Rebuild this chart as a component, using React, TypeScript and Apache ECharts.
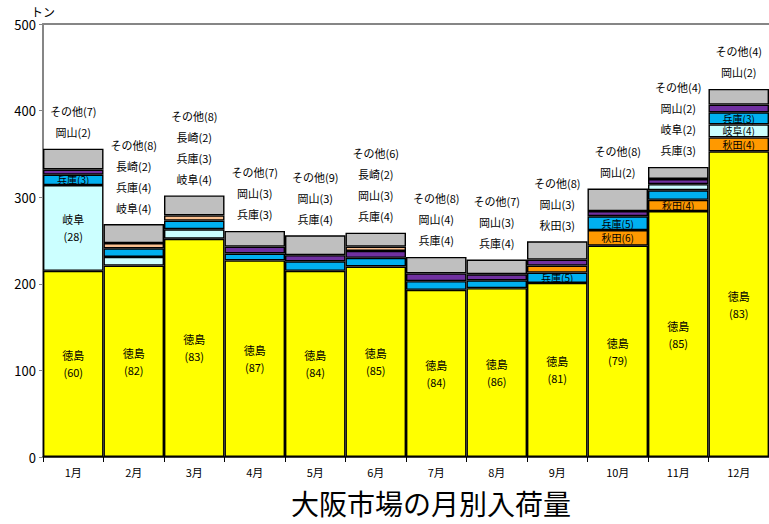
import React, { useEffect, useRef } from "react";
import * as echarts from "echarts";

const months = ["1月", "2月", "3月", "4月", "5月", "6月", "7月", "8月", "9月", "10月", "11月", "12月"];
const yTicks = [0, 100, 200, 300, 400, 500];

// tons per month by prefecture (null = not listed)
const tokushima = [215, 221, 252, 227, 215, 220, 193, 195, 201, 244, 284, 353];
const akita = [null, null, null, null, null, null, null, null, 8, 18, 13, 16];
const gifu = [99, 10, 11, null, null, null, null, null, null, null, 7, 15];
const hyogo = [12, 10, 10, 8, 11, 10, 10, 9, 12, 16, 11, 14];
const okayama = [6, null, null, 8, 7, 8, 9, 7, 7, 6, 6, 9];
const nagasaki = [null, 6, 6, null, null, 5, null, null, null, null, null, null];
const others = [24, 22, 23, 18, 23, 16, 19, 17, 21, 26, 14, 18];

const regionNames = ["徳島", "秋田", "岐阜", "兵庫", "岡山", "長崎"];
const regionValues = [tokushima, akita, gifu, hyogo, okayama, nagasaki];
const regionColors = ["#FFFF00", "#FF9900", "#CCFFFF", "#00B0F0", "#7030A0", "#FAC090"];
const othersName = "その他";
const othersColor = "#BFBFBF";
const chartTitle = "大阪市場の月別入荷量";

const FONT = "'Noto Sans CJK JP', 'Noto Sans', sans-serif";

function buildSeries() {
  const perMonth = months.map((_, m) => {
    const items = regionNames
      .map((name, i) => ({ name, idx: i, value: regionValues[i][m] as number | null }))
      .filter((d) => d.value != null) as { name: string; idx: number; value: number }[];
    items.sort((a, b) => b.value - a.value || a.idx - b.idx);
    const total = items.reduce((s, d) => s + d.value, 0) + others[m];
    return { items, total };
  });
  const maxRanks = Math.max(...perMonth.map((p) => p.items.length));
  const series: any[] = [];
  for (let r = 0; r < maxRanks; r++) {
    series.push({
      type: "bar",
      name: "rank" + (r + 1),
      stack: "total",
      barCategoryGap: "0%",
      itemStyle: { borderColor: "#000", borderWidth: 1.4 },
      data: perMonth.map((p) => {
        const d = p.items[r];
        if (!d) return null;
        const pct = Math.round((d.value / p.total) * 100);
        const inside = d.value >= 12;
        const twoLine = d.value >= 30;
        return {
          value: d.value,
          name: d.name,
          itemStyle: { color: regionColors[d.idx] },
          label: {
            show: inside,
            position: "inside",
            formatter: twoLine ? `${d.name}\n(${pct})` : `${d.name}(${pct})`,
            lineHeight: twoLine ? 17 : 10,
            fontSize: twoLine ? 11 : 10,
          },
        };
      }),
    });
  }
  series.push({
    type: "bar",
    name: othersName,
    stack: "total",
    barCategoryGap: "0%",
    itemStyle: { borderColor: "#000", borderWidth: 1.4, color: othersColor },
    data: perMonth.map((p, m) => {
      const lines = [`${othersName}(${Math.round((others[m] / p.total) * 100)})`];
      for (let r = p.items.length - 1; r >= 0; r--) {
        const d = p.items[r];
        if (d.value < 12) lines.push(`${d.name}(${Math.round((d.value / p.total) * 100)})`);
      }
      return {
        value: others[m],
        label: {
          show: true,
          position: "top",
          distance: 6,
          formatter: lines.join("\n"),
          lineHeight: 21,
        },
      };
    }),
  });
  series.forEach((s) => {
    s.label = { color: "#000", fontSize: 11, fontFamily: FONT };
  });
  return series;
}

export default function App() {
  const ref = useRef<HTMLDivElement>(null);
  useEffect(() => {
    if (!ref.current) return;
    const chart = echarts.init(ref.current, null, { renderer: "svg" });
    chart.setOption({
      animation: false,
      textStyle: { fontFamily: FONT },
      graphic: [
        {
          type: "text",
          x: 431,
          y: 503,
          style: {
            text: chartTitle,
            fontSize: 28,
            fontFamily: FONT,
            fill: "#000",
            align: "center",
            verticalAlign: "middle",
          },
        },
      ],
      grid: { left: 43, top: 24, width: 734, height: 433 },
      xAxis: [
        {
          type: "category",
          data: months,
          axisLine: { lineStyle: { color: "#000", width: 1.5 } },
          axisTick: { show: true, length: 5, lineStyle: { color: "#000" } },
          axisLabel: { color: "#000", fontSize: 11, margin: 9, fontFamily: FONT },
        },
        {
          type: "category",
          data: months,
          position: "top",
          axisLine: { show: true, lineStyle: { color: "#868686", width: 2 } },
          axisTick: { show: false },
          axisLabel: { show: false },
        },
      ],
      yAxis: {
        type: "value",
        min: yTicks[0],
        max: yTicks[yTicks.length - 1],
        interval: 100,
        name: "トン",
        nameLocation: "end",
        nameGap: 4,
        nameTextStyle: { color: "#000", fontSize: 12, fontFamily: FONT },
        axisLine: { show: true, lineStyle: { color: "#868686", width: 2 } },
        axisTick: { show: true, length: 4, lineStyle: { color: "#868686" } },
        axisLabel: { color: "#000", fontSize: 13, margin: 7, fontFamily: FONT },
        splitLine: { show: false },
      },
      series: buildSeries(),
    });
    return () => chart.dispose();
  }, []);
  return (
    <div
      ref={ref}
      style={{ position: "fixed", left: 0, top: 0, width: 769, height: 524, background: "#fff" }}
    />
  );
}
